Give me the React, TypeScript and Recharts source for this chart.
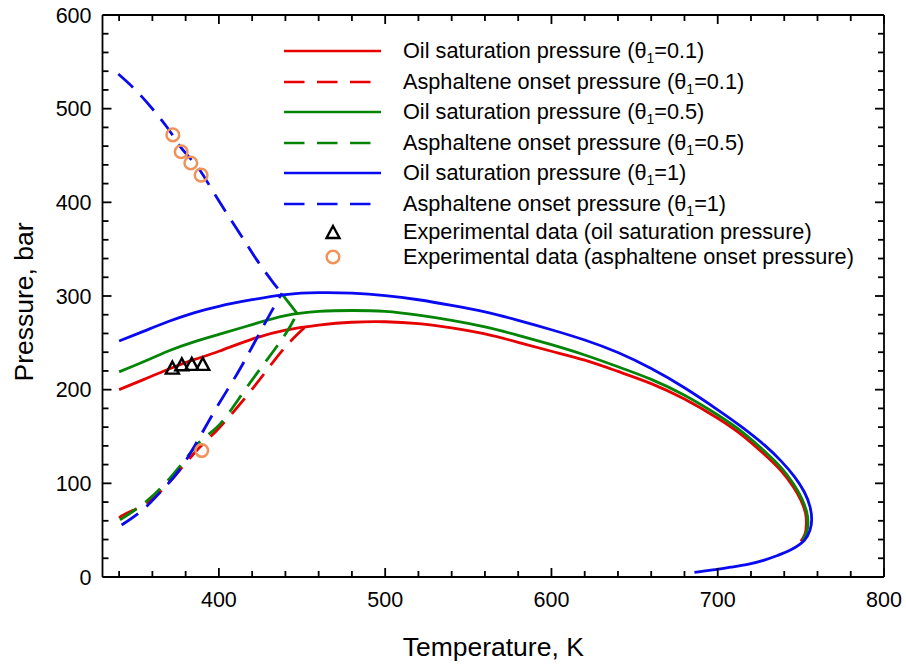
import React from 'react';
import { ComposedChart, Line, Scatter, XAxis, YAxis, Legend, Label } from 'recharts';

const FONT = '"Liberation Sans", Arial, Helvetica, sans-serif';
const RED = '#e60000';
const GREEN = '#068406';
const BLUE = '#0a0af0';
const ORANGE = '#f0925a';
const DASH = '20 11';

// Axis ticks
const xTicks = [340, 360, 380, 400, 420, 440, 460, 480, 500, 520, 540, 560, 580, 600, 620, 640, 660, 680, 700, 720, 740, 760, 780, 800];
const xLabelTicks = [400, 500, 600, 700, 800];
const yTicks = [0, 20, 40, 60, 80, 100, 120, 140, 160, 180, 200, 220, 240, 260, 280, 300, 320, 340, 360, 380, 400, 420, 440, 460, 480, 500, 520, 540, 560, 580, 600];
const yLabelTicks = [0, 100, 200, 300, 400, 500, 600];

// [Temperature K, Pressure bar]
const oilSat01: [number, number][] = [
  [340, 200], [355, 211], [370, 222], [385, 232], [400, 241], [420, 254], [440, 263.5], [460, 269], [480, 272],
  [500, 272.5], [520, 270.5], [540, 266], [560, 259.5], [580, 250.5], [600, 241], [620, 231.5], [640, 219.5],
  [660, 206.5], [680, 190], [700, 169.5], [715, 151], [728, 131], [738, 113.5], [745.5, 96], [750, 82],
  [752.8, 68], [753.3, 56], [752.5, 46], [750, 38],
];
const onset01: [number, number][] = [
  [340, 63], [344.5, 68], [359, 82], [374.5, 110], [388.7, 139], [399, 157], [414.8, 189], [428.9, 221],
  [440.9, 247.5], [452.5, 268],
];
const oilSat05: [number, number][] = [
  [340, 219], [355, 230], [370, 241.5], [385, 251], [400, 259], [420, 269.5], [440, 279], [460, 283.5], [480, 284.5],
  [500, 283.5], [520, 279.5], [540, 274], [560, 267], [580, 258], [600, 248], [620, 237], [640, 224.5],
  [660, 211], [680, 194], [700, 173], [715, 154.5], [728, 134.5], [738, 117], [745.5, 99.5], [750.5, 84],
  [753.5, 69.5], [754.3, 58], [753.5, 48], [751, 39],
];
const onset05Lower: [number, number][] = [
  [340.5, 61], [358.5, 84], [376.5, 118], [388.5, 144.5], [400.5, 163], [415, 198], [429, 232], [441, 262],
  [447, 281.5],
];
const onset05Upper: [number, number][] = [[447, 281.5], [438, 302]];
const oilSat1: [number, number][] = [
  [340, 252], [355, 262.5], [370, 273], [385, 282], [400, 289], [420, 296], [440, 301.5], [460, 303.5], [480, 303],
  [500, 300.5], [520, 296], [540, 290], [560, 283], [580, 274], [600, 264], [620, 253], [640, 239.6], [660, 222.5],
  [680, 202], [700, 178.5], [715, 159.5], [728, 141], [738, 124], [746, 107.5], [752, 91], [755.5, 75],
  [756.5, 61], [755.5, 50], [752, 39], [744, 29], [736, 23], [728, 18], [718, 13.5], [708, 10.5], [697, 7.5],
  [686, 5],
];
const onset1Lower: [number, number][] = [
  [341.5, 55.5], [355, 73], [366, 93], [377, 116], [389, 151], [399, 182], [411, 217], [421, 249], [433, 288],
  [438, 303],
];
const onset1Upper: [number, number][] = [
  [339.5, 537], [352.5, 515], [368.5, 481], [377, 459], [387, 438], [395, 416], [407, 382], [415, 360],
  [423, 338], [433, 313.5], [438, 303],
];
const expOilSat: [number, number][] = [[372, 222.5], [377.7, 226], [383.7, 226.5], [390.3, 226.5]];
const expOnset: [number, number][] = [[372.3, 472], [377.3, 454], [383.1, 442], [389.3, 429], [389.7, 135]];

const toXY = (pts: [number, number][]) => pts.map(([x, y]) => ({ x, y }));

// top/right axes share the same domains as the bottom/left ones
const lineSeries = [
  { key: 'os01', data: oilSat01, color: RED, dashed: false, mirror: false },
  { key: 'on01', data: onset01, color: RED, dashed: true, mirror: false },
  { key: 'os05', data: oilSat05, color: GREEN, dashed: false, mirror: false },
  { key: 'on05l', data: onset05Lower, color: GREEN, dashed: true, mirror: false },
  { key: 'on05u', data: onset05Upper, color: GREEN, dashed: false, mirror: false },
  { key: 'os1', data: oilSat1, color: BLUE, dashed: false, mirror: false },
  { key: 'on1l', data: onset1Lower, color: BLUE, dashed: true, mirror: false },
  { key: 'on1u', data: onset1Upper, color: BLUE, dashed: true, mirror: true },
];

const legendItems = [
  { pre: 'Oil saturation pressure (θ', sub: '1', post: '=0.1)', color: RED, kind: 'solid' },
  { pre: 'Asphaltene onset pressure (θ', sub: '1', post: '=0.1)', color: RED, kind: 'dash' },
  { pre: 'Oil saturation pressure (θ', sub: '1', post: '=0.5)', color: GREEN, kind: 'solid' },
  { pre: 'Asphaltene onset pressure (θ', sub: '1', post: '=0.5)', color: GREEN, kind: 'dash' },
  { pre: 'Oil saturation pressure (θ', sub: '1', post: '=1)', color: BLUE, kind: 'solid' },
  { pre: 'Asphaltene onset pressure (θ', sub: '1', post: '=1)', color: BLUE, kind: 'dash' },
  { pre: 'Experimental data (oil saturation pressure)', sub: '', post: '', color: '#000', kind: 'triangle' },
  { pre: 'Experimental data (asphaltene onset pressure)', sub: '', post: '', color: ORANGE, kind: 'circle' },
];
const legendRowY = [50.5, 81.5, 112, 142.5, 173, 204, 232, 257];

const W = 906;
const H = 666;
const PLOT_L = 102.5;
const PLOT_R = 884;
const PLOT_T = 15;
const PLOT_B = 577;
const Y_AXIS_W = 70;
const X_AXIS_H = 60;

const TICK_FONT = 21.5;
const TITLE_FONT = 26.5;

const makeTick = (side: 'bottom' | 'top' | 'left' | 'right', labels: number[]) => (props: any) => {
  const { x, y, payload } = props;
  const v = payload.value;
  const major = labels.indexOf(v) >= 0;
  const len = major ? 9 : 6;
  const st = { stroke: '#000', strokeWidth: 1.8 };
  if (side === 'bottom') {
    return (
      <g>
        <line x1={x} y1={y} x2={x} y2={y - len} {...st} />
        {major && (
          <text x={x} y={y + 30} textAnchor="middle" fontSize={TICK_FONT} fontFamily={FONT} fill="#000">{v}</text>
        )}
      </g>
    );
  }
  if (side === 'top') {
    return <g><line x1={x} y1={y} x2={x} y2={y + len} {...st} /></g>;
  }
  if (side === 'left') {
    return (
      <g>
        <line x1={x} y1={y} x2={x + len} y2={y} {...st} />
        {major && (
          <text x={x - 11} y={y} dy="0.36em" textAnchor="end" fontSize={TICK_FONT} fontFamily={FONT} fill="#000">{v}</text>
        )}
      </g>
    );
  }
  return <g><line x1={x} y1={y} x2={x - len} y2={y} {...st} /></g>;
};

const triangleShape = (p: any) => (
  <path d={`M${p.cx},${p.cy - 7} L${p.cx + 6.5},${p.cy + 5} L${p.cx - 6.5},${p.cy + 5} Z`} fill="none" stroke="#000" strokeWidth={2.4} strokeLinejoin="miter" />
);
const circleShape = (p: any) => (
  <circle cx={p.cx} cy={p.cy} r={6.3} fill="none" stroke={ORANGE} strokeWidth={2.5} />
);

const LegendBox = () => (
  <div style={{ position: 'relative', width: W, height: 280, fontFamily: FONT, pointerEvents: 'none' }}>
    {legendItems.map((it, i) => {
      const cy = legendRowY[i];
      return (
        <div key={i} style={{ position: 'absolute', left: 0, top: cy - 15, height: 30, width: W }}>
          <svg width={120} height={30} style={{ position: 'absolute', left: 270, top: 0 }}>
            {it.kind === 'solid' && <line x1={14} y1={15} x2={111} y2={15} stroke={it.color} strokeWidth={2.7} />}
            {it.kind === 'dash' && <line x1={14} y1={15} x2={100.5} y2={15} stroke={it.color} strokeWidth={2.7} strokeDasharray="20.5 12.5" />}
            {it.kind === 'triangle' && triangleShape({ cx: 63, cy: 16 })}
            {it.kind === 'circle' && circleShape({ cx: 63, cy: 15 })}
          </svg>
          <div style={{ position: 'absolute', left: 403, top: 0, lineHeight: '30px', fontSize: 21.7, color: '#000', whiteSpace: 'nowrap' }}>
            {it.pre}
            {it.sub && <sub style={{ fontSize: 14, verticalAlign: '-5px' }}>{it.sub}</sub>}
            {it.post}
          </div>
        </div>
      );
    })}
  </div>
);

export default function App() {
  return (
    <div style={{ position: 'absolute', left: 0, top: 0, width: W, height: H, background: '#fff' }}>
      <ComposedChart
        width={W}
        height={H}
        margin={{ top: PLOT_T - 1, right: W - PLOT_R - 1, left: PLOT_L - Y_AXIS_W, bottom: H - PLOT_B - X_AXIS_H }}
        style={{ fontFamily: FONT }}
      >
        <XAxis
          dataKey="x"
          type="number"
          domain={[330, 800]}
          allowDataOverflow
          ticks={xTicks}
          interval={0}
          tickSize={0}
          tickMargin={0}
          height={X_AXIS_H}
          axisLine={{ stroke: '#000', strokeWidth: 1.8 }}
          tickLine={false}
          tick={makeTick('bottom', xLabelTicks)}
        >
          <Label
            content={() => (
              <text x={(PLOT_L + PLOT_R) / 2} y={656} textAnchor="middle" fontSize={TITLE_FONT} fontFamily={FONT} fill="#000">
                Temperature, K
              </text>
            )}
          />
        </XAxis>
        <XAxis
          xAxisId="top"
          dataKey="x"
          orientation="top"
          type="number"
          domain={[330, 800]}
          allowDataOverflow
          ticks={xTicks}
          interval={0}
          tickSize={0}
          tickMargin={0}
          height={1}
          axisLine={{ stroke: '#000', strokeWidth: 1.8 }}
          tickLine={false}
          tick={makeTick('top', xLabelTicks)}
        />
        <YAxis
          dataKey="y"
          type="number"
          domain={[0, 600]}
          allowDataOverflow
          ticks={yTicks}
          interval={0}
          tickSize={0}
          tickMargin={0}
          width={Y_AXIS_W}
          axisLine={{ stroke: '#000', strokeWidth: 1.8 }}
          tickLine={false}
          tick={makeTick('left', yLabelTicks)}
        >
          <Label
            content={() => (
              <text
                x={24}
                y={302}
                transform="rotate(-90, 24, 302)"
                textAnchor="middle"
                dominantBaseline="central"
                fontSize={TITLE_FONT}
                fontFamily={FONT}
                fill="#000"
              >
                Pressure, bar
              </text>
            )}
          />
        </YAxis>
        <YAxis
          yAxisId="right"
          dataKey="y"
          orientation="right"
          type="number"
          domain={[0, 600]}
          allowDataOverflow
          ticks={yTicks}
          interval={0}
          tickSize={0}
          tickMargin={0}
          width={1}
          axisLine={{ stroke: '#000', strokeWidth: 1.8 }}
          tickLine={false}
          tick={makeTick('right', yLabelTicks)}
        />
        <Scatter data={toXY(expOnset)} shape={circleShape} isAnimationActive={false} legendType="none" />
        {lineSeries.map((s) => (
          <Line
            key={s.key}
            data={toXY(s.data)}
            dataKey="y"
            xAxisId={s.mirror ? 'top' : 0}
            yAxisId={s.mirror ? 'right' : 0}
            type="natural"
            stroke={s.color}
            strokeWidth={2.8}
            strokeDasharray={s.dashed ? DASH : undefined}
            dot={false}
            activeDot={false}
            isAnimationActive={false}
            legendType="none"
          />
        ))}
        <Scatter data={toXY(expOilSat)} shape={triangleShape} isAnimationActive={false} legendType="none" />
        <Legend
          layout="vertical"
          align="center"
          verticalAlign="middle"
          wrapperStyle={{ left: 0, top: 0, width: W, height: 280 }}
          content={() => <LegendBox />}
        />
      </ComposedChart>
    </div>
  );
}
